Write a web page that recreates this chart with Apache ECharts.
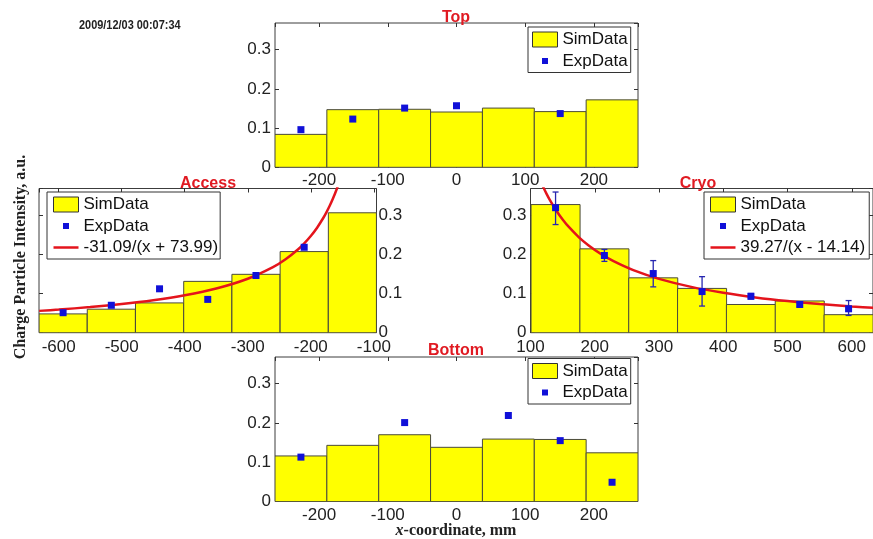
<!DOCTYPE html>
<html><head><meta charset="utf-8">
<script src="https://cdn.jsdelivr.net/npm/echarts@6/dist/echarts.min.js"></script>
<style>html,body{margin:0;padding:0;background:#fff}#c{width:873px;height:539px}</style>
</head><body><div id="c"></div>
<script>
// ---------------- data ----------------
const centralBinCenters = [-226.5, -151, -75.5, 0, 75.5, 151, 226.5];
const centralBinWidth = 75.5;
const accessBinCenters = [-593, -516.5, -440, -363.5, -287, -210.5, -134];
const cryoBinCenters = [139, 215, 291, 367, 443, 519, 595];
const sideBinWidth = 76.3;

const topSim = [0.084, 0.147, 0.148, 0.141, 0.151, 0.142, 0.172];
const topExpX = [-226.5, -151, -75.5, 0, 151];
const topExp = [0.096, 0.123, 0.151, 0.157, 0.137];

const bottomSim = [0.116, 0.143, 0.170, 0.138, 0.159, 0.158, 0.124];
const bottomExpX = [-226.5, -75.5, 75.5, 151, 226.5];
const bottomExp = [0.113, 0.201, 0.219, 0.155, 0.049];

const accessSim = [0.048, 0.060, 0.076, 0.131, 0.149, 0.207, 0.306];
const accessExpX = [-593, -516.5, -440, -363.5, -287, -210.5];
const accessExp = [0.051, 0.070, 0.112, 0.085, 0.146, 0.218];
const accessFitName = '-31.09/(x + 73.99)';
const accessFitX = [-631, -600, -550, -500, -450, -400, -350, -300, -260, -240, -220, -210, -200, -190, -180, -175, -170, -165, -160, -155];
const accessFitY = [0.0557, 0.0591, 0.0653, 0.0730, 0.0827, 0.0954, 0.1126, 0.1376, 0.1671, 0.1873, 0.2129, 0.2286, 0.2467, 0.2680, 0.2933, 0.3078, 0.3238, 0.3416, 0.3615, 0.3838];

const cryoSim = [0.327, 0.214, 0.140, 0.113, 0.072, 0.081, 0.046];
const cryoExpX = [139, 215, 291, 367, 443, 519, 595];
const cryoExp = [0.319, 0.197, 0.151, 0.105, 0.093, 0.072, 0.061];
const cryoErrLow = [0.276, 0.182, 0.117, 0.068, 0.086, 0.067, 0.044];
const cryoErrHigh = [0.359, 0.2125, 0.184, 0.143, 0.100, 0.077, 0.082];
const cryoFitName = '39.27/(x - 14.14)';
const cryoFitX = [115, 120, 125, 130, 140, 150, 160, 175, 190, 210, 230, 260, 300, 350, 400, 450, 500, 550, 600, 640];
const cryoFitY = [0.3893, 0.3710, 0.3542, 0.3389, 0.3120, 0.2891, 0.2692, 0.2441, 0.2233, 0.2005, 0.1819, 0.1597, 0.1374, 0.1169, 0.1018, 0.0901, 0.0808, 0.0733, 0.0670, 0.0630];

const yTickValuesMax = 0.368;
const timestamp = '2009/12/03 00:07:34';
const yAxisTitle = 'Charge Particle Intensity, a.u.';

// ---------------- styling / layout ----------------
const SANS = "'Liberation Sans', Arial, sans-serif";
const SERIF = "'Liberation Serif', 'Times New Roman', serif";
const YELLOW = '#ffff00';
const BLUE = '#1010d8';
const RED = '#e4141c';
const TITLE_RED = '#e01a22';
const EXP_ICON = 'path://M0,0M25,15M9.5,4.5L15.5,4.5L15.5,10.5L9.5,10.5Z';
const FIT_ICON = 'path://M0,0M25,15M0,6.25L25,6.25L25,8.75L0,8.75Z';

const panels = [
  { title: 'Top', titlePos: [456, 18], grid: {left: 275, top: 23, width: 363, height: 144.3},
    xMin: -264.25, xMax: 264.25, bins: centralBinCenters, binW: centralBinWidth,
    sim: topSim, expX: topExpX, exp: topExp, yRight: false, showMin: false,
    xMargin: 5, legend: {left: 528, top: 27, padding: [4, 3, 3, 4]} },
  { title: 'Access', titlePos: [208, 184], grid: {left: 39, top: 188.5, width: 337.5, height: 144.2},
    xMin: -631.25, xMax: -95.75, bins: accessBinCenters, binW: sideBinWidth,
    sim: accessSim, expX: accessExpX, exp: accessExp, yRight: true, showMin: false,
    fitName: accessFitName, fitX: accessFitX, fitY: accessFitY,
    xMargin: 6, legend: {left: 47, top: 192, padding: [4, 2, 3, 6]} },
  { title: 'Cryo', titlePos: [698, 184], grid: {left: 530.5, top: 188.5, width: 347, height: 144.2},
    xMin: 100, xMax: 633, bins: cryoBinCenters, binW: sideBinWidth,
    sim: cryoSim, expX: cryoExpX, exp: cryoExp, yRight: false, showMin: true,
    errLow: cryoErrLow, errHigh: cryoErrHigh,
    fitName: cryoFitName, fitX: cryoFitX, fitY: cryoFitY,
    xMargin: 6, legend: {left: 704, top: 192, padding: [4, 4, 3, 6]} },
  { title: 'Bottom', titlePos: [456, 351], grid: {left: 275, top: 357, width: 363, height: 144.5},
    xMin: -264.25, xMax: 264.25, bins: centralBinCenters, binW: centralBinWidth,
    sim: bottomSim, expX: bottomExpX, exp: bottomExp, yRight: false, showMin: false,
    xMargin: 5, legend: {left: 528, top: 358.5, padding: [4, 3, 3, 4]} }
];

const grids = [], xAxes = [], yAxes = [], series = [], legends = [], graphics = [];
const tick = {inside: true, length: 4, lineStyle: {color: '#333', width: 1}};
const labelStyle = {fontSize: 17, fontFamily: SANS, color: '#222'};
const noLine = {show: false, onZero: false};

panels.forEach((p, i) => {
  grids.push(Object.assign({show: true, borderColor: '#3c3c3c', borderWidth: 1, backgroundColor: '#fff'}, p.grid));
  const xBase = {gridIndex: i, type: 'value', min: p.xMin, max: p.xMax, splitLine: {show: false},
                 axisLine: noLine, axisTick: tick};
  xAxes.push(Object.assign({}, xBase, {position: 'bottom',
    axisLabel: Object.assign({margin: p.xMargin, showMinLabel: p.showMin, showMaxLabel: false}, labelStyle)}));
  xAxes.push(Object.assign({}, xBase, {position: 'top', axisLabel: {show: false}}));
  const yBase = {gridIndex: i, type: 'value', min: 0, max: yTickValuesMax, interval: 0.1,
                 splitLine: {show: false}, axisLine: noLine, axisTick: tick};
  const yLab = Object.assign({showMaxLabel: false, margin: p.yRight ? 2 : 4}, labelStyle);
  yAxes.push(Object.assign({}, yBase, {position: 'left', axisLabel: p.yRight ? {show: false} : yLab}));
  yAxes.push(Object.assign({}, yBase, {position: 'right', axisLabel: p.yRight ? yLab : {show: false}}));

  const xi = 2 * i, yi = 2 * i;
  const w = p.binW;
  series.push({
    name: 'SimData', type: 'custom', coordinateSystem: 'cartesian2d', xAxisIndex: xi, yAxisIndex: yi,
    itemStyle: {color: YELLOW}, z: 2, clip: true,
    data: p.bins.map((c, k) => [c, p.sim[k]]),
    renderItem: (params, api) => {
      const c = api.value(0), v = api.value(1);
      const a = api.coord([c - w / 2, v]);
      const b = api.coord([c + w / 2, 0]);
      return {type: 'rect', shape: {x: a[0], y: a[1], width: b[0] - a[0], height: b[1] - a[1]},
              style: {fill: YELLOW, stroke: '#4a4a3c', lineWidth: 1}};
    }
  });
  if (p.fitX) {
    series.push({
      name: p.fitName, type: 'line', xAxisIndex: xi, yAxisIndex: yi, symbol: 'none', smooth: 0.3,
      z: 4, clip: true, lineStyle: {color: RED, width: 2.5}, itemStyle: {color: RED},
      data: p.fitX.map((x, k) => [x, p.fitY[k]])
    });
  }
  if (p.errLow) {
    series.push({
      name: 'ExpData error', type: 'custom', coordinateSystem: 'cartesian2d', xAxisIndex: xi, yAxisIndex: yi,
      z: 5, itemStyle: {color: BLUE},
      data: p.expX.map((x, k) => [x, p.errLow[k], p.errHigh[k]]),
      renderItem: (params, api) => {
        const x = api.value(0);
        const lo = api.coord([x, api.value(1)]), hi = api.coord([x, api.value(2)]);
        const st = {stroke: '#2626b0', lineWidth: 1.3};
        return {type: 'group', children: [
          {type: 'line', shape: {x1: lo[0], y1: lo[1], x2: hi[0], y2: hi[1]}, style: st},
          {type: 'line', shape: {x1: lo[0] - 3, y1: lo[1], x2: lo[0] + 3, y2: lo[1]}, style: st},
          {type: 'line', shape: {x1: hi[0] - 3, y1: hi[1], x2: hi[0] + 3, y2: hi[1]}, style: st}
        ]};
      }
    });
  }
  series.push({
    name: 'ExpData', type: 'scatter', xAxisIndex: xi, yAxisIndex: yi, symbol: 'rect', symbolSize: 7,
    z: 6, itemStyle: {color: BLUE, opacity: 1}, data: p.expX.map((x, k) => [x, p.exp[k]])
  });

  const items = [
    {name: 'SimData', icon: 'rect', itemStyle: {color: YELLOW, borderColor: '#333', borderWidth: 1}},
    {name: 'ExpData', icon: EXP_ICON, itemStyle: {color: BLUE, opacity: 1}}
  ];
  if (p.fitX) items.push({name: p.fitName, icon: FIT_ICON, itemStyle: {color: RED, opacity: 1, borderWidth: 0}});
  legends.push({
    left: p.legend.left, top: p.legend.top, padding: p.legend.padding, orient: 'vertical',
    itemGap: 4.5, itemWidth: 25, itemHeight: 15, selectedMode: false,
    backgroundColor: '#fff', borderColor: '#333', borderWidth: 1, borderRadius: 0,
    textStyle: {fontSize: 17, fontFamily: SANS, color: '#111'},
    data: items
  });

  graphics.push({type: 'text', x: p.titlePos[0], y: p.titlePos[1], z: 100,
    style: {text: p.title, fill: TITLE_RED, font: 'bold 16px ' + SANS, align: 'center', verticalAlign: 'middle',
            textAlign: 'center', textVerticalAlign: 'middle'}});
});

graphics.push({type: 'text', x: 79, y: 25.5, scaleX: 0.81, z: 100,
  style: {text: timestamp, fill: '#222', font: 'bold 13.5px ' + SANS,
          align: 'left', verticalAlign: 'middle', textAlign: 'left', textVerticalAlign: 'middle'}});
graphics.push({type: 'text', x: 21, y: 257, rotation: Math.PI / 2, z: 100,
  style: {text: yAxisTitle, fill: '#222', font: 'bold 16px ' + SERIF, align: 'center', verticalAlign: 'middle',
          textAlign: 'center', textVerticalAlign: 'middle'}});
graphics.push({type: 'text', x: 456, y: 531, z: 100,
  style: {text: '{i|x}-coordinate, mm', fill: '#222', font: 'bold 16px ' + SERIF, align: 'center', verticalAlign: 'middle',
          textAlign: 'center', textVerticalAlign: 'middle',
          rich: {i: {fontStyle: 'italic', fontWeight: 'bold', fontFamily: SERIF, fontSize: 16, fill: '#222'}}}});

const chart = echarts.init(document.getElementById('c'));
chart.setOption({
  animation: false,
  backgroundColor: '#fff',
  grid: grids, xAxis: xAxes, yAxis: yAxes, series: series, legend: legends, graphic: graphics
});
</script>
</body></html>
